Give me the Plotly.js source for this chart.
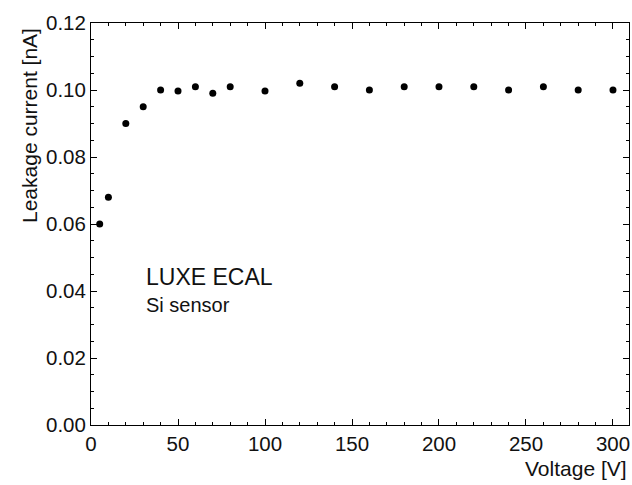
<!DOCTYPE html>
<html><head><meta charset="utf-8">
<script src="https://cdn.plot.ly/plotly-3.0.1.min.js"></script>
<style>html,body{margin:0;padding:0;background:#fff}#chart{width:632px;height:485px}</style>
</head><body><div id="chart"></div>
<script>
var voltage = [5, 10, 20, 30, 40, 50, 60, 70, 80, 100, 120, 140, 160, 180, 200, 220, 240, 260, 280, 300];
var current = [0.060, 0.068, 0.090, 0.095, 0.100, 0.0997, 0.101, 0.099, 0.101, 0.0997, 0.102, 0.101, 0.100, 0.101, 0.101, 0.101, 0.100, 0.101, 0.100, 0.100];
var xTitle = 'Voltage [V]';
var yTitle = 'Leakage current [nA]';
var label1 = 'LUXE ECAL';
var label2 = 'Si sensor';

var font = 'Liberation Sans, Arial, sans-serif';
var trace = {x: voltage, y: current, type: 'scatter', mode: 'markers',
  marker: {color: '#000', size: 7}, hoverinfo: 'skip'};
var axisCommon = {showgrid: false, zeroline: false, showline: true, linecolor: '#000', linewidth: 1,
  mirror: 'ticks', ticks: 'inside', tickcolor: '#000', ticklen: 6,
  tickfont: {family: font, size: 20.5, color: '#111'}};
var layout = {
  width: 632, height: 485,
  margin: {l: 91, r: 3, t: 23, b: 60},
  paper_bgcolor: '#fff', plot_bgcolor: '#fff',
  showlegend: false,
  xaxis: Object.assign({}, axisCommon, {range: [0, 309.2], dtick: 50, tick0: 0,
    minor: {dtick: 10, ticklen: 3, ticks: 'inside', tickcolor: '#000'}}),
  yaxis: Object.assign({}, axisCommon, {range: [0, 0.12], dtick: 0.02, tick0: 0, tickformat: '.2f',
    minor: {dtick: 0.005, ticklen: 3, ticks: 'inside', tickcolor: '#000'}}),
  annotations: [
    {text: xTitle, xref: 'paper', yref: 'paper', x: 1, y: 0, xanchor: 'right', yanchor: 'top', yshift: -30,
     showarrow: false, font: {family: font, size: 21, color: '#111'}},
    {text: yTitle, xref: 'paper', yref: 'paper', x: 0, y: 1, xanchor: 'right', yanchor: 'top', xshift: -48, yshift: -3,
     textangle: -90, showarrow: false, font: {family: font, size: 21, color: '#111'}},
    {text: label1, xref: 'x', yref: 'y', x: 30.5, y: 0.0443, xanchor: 'left', yanchor: 'middle',
     showarrow: false, font: {family: font, size: 23, color: '#111'}},
    {text: label2, xref: 'x', yref: 'y', x: 30.5, y: 0.0357, xanchor: 'left', yanchor: 'middle',
     showarrow: false, font: {family: font, size: 20, color: '#111'}}
  ]
};
Plotly.newPlot('chart', [trace], layout, {displayModeBar: false, staticPlot: true});
</script></body></html>
